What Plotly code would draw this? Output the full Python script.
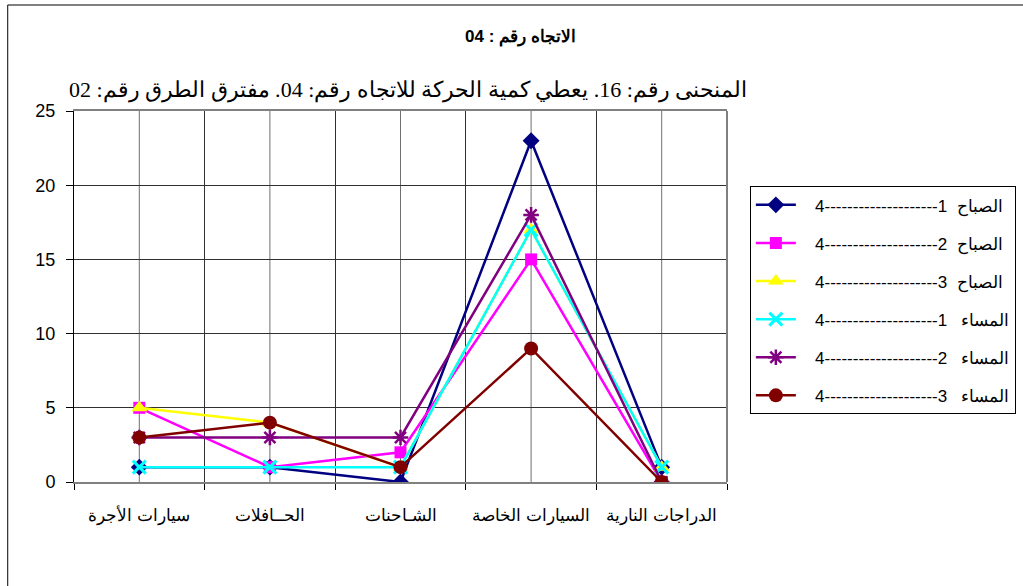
import plotly.graph_objects as go

categories = ["سيارات الأجرة", "الحــافلات", "الشـاحنات", "السيارات الخاصة", "الدراجات النارية"]

NB = "\u00a0"
series_names = [
    NB * 3 + "4" + "-" * 20 + "1" + NB * 2 + "الصباح",
    NB * 3 + "4" + "-" * 20 + "2" + NB * 2 + "الصباح",
    NB * 3 + "4" + "-" * 20 + "3" + NB * 2 + "الصباح",
    NB * 3 + "4" + "-" * 20 + "1" + NB * 3 + "المساء",
    NB * 3 + "4" + "-" * 20 + "2" + NB * 3 + "المساء",
    NB * 3 + "4" + "-" * 20 + "3" + NB * 3 + "المساء",
]

morning_1 = [1, 1, 0, 23, 1]
morning_2 = [5, 1, 2, 15, 0]
morning_3 = [5, 4, 1, 17, 1]
evening_1 = [1, 1, 1, 17, 1]
evening_2 = [3, 3, 3, 18, 0]
evening_3 = [3, 4, 1, 9, 0]

y_ticks = [0, 5, 10, 15, 20, 25]

title_text = "<b>الاتجاه رقم : 04</b>"
subtitle_text = "\u202bالمنحنى رقم: 16. يعطي كمية الحركة للاتجاه رقم: 04. مفترق الطرق رقم: 02\u202c"

series_values = [morning_1, morning_2, morning_3, evening_1, evening_2, evening_3]
styles = [
    dict(color="#000080", symbol="diamond", size=13, lw=0, lc="#000080"),
    dict(color="#FF00FF", symbol="square", size=12, lw=0, lc="#FF00FF"),
    dict(color="#FFFF00", symbol="triangle-up", size=14, lw=0, lc="#FFFF00"),
    dict(color="#00FFFF", symbol="x-thin-open", size=13, lw=3, lc="#00FFFF"),
    dict(color="#800080", symbol="asterisk-open", size=13, lw=2.5, lc="#800080"),
    dict(color="#800000", symbol="circle", size=14, lw=0, lc="#800000"),
]

fig = go.Figure()
for i, (name, vals, st) in enumerate(zip(series_names, series_values, styles)):
    fig.add_trace(go.Scatter(
        x=categories, y=vals, name=name, mode="lines+markers",
        legendgroup=f"g{i}",
        line=dict(color=st["color"], width=2.5),
        marker=dict(symbol=st["symbol"], size=st["size"], color=st["color"],
                    line=dict(width=st["lw"], color=st["lc"])),
    ))

shapes = []
# center gridlines at each category
for c in categories:
    shapes.append(dict(type="line", xref="x", yref="paper", x0=c, x1=c, y0=0, y1=1,
                       line=dict(color="#707070", width=1), layer="below"))
# right border of the plot area
shapes.append(dict(type="line", xref="paper", yref="paper", x0=1, x1=1, y0=0, y1=1,
                   line=dict(color="#808080", width=2), layer="above"))
# outer chart border
shapes.append(dict(type="rect", xref="paper", yref="paper", x0=-0.1015, x1=2, y0=-1, y1=1.2857,
                   line=dict(color="black", width=1), layer="below"))

fig.update_layout(
    width=1023, height=586,
    margin=dict(l=74, r=296, t=111, b=104, autoexpand=False),
    paper_bgcolor="white", plot_bgcolor="white",
    font=dict(family="Arial, Liberation Sans, sans-serif", color="black", size=15),
    showlegend=True,
    legend=dict(
        x=1.035, xanchor="left", y=0.797, yanchor="top",
        bordercolor="black", borderwidth=1, bgcolor="white",
        font=dict(size=17, family="Arial, Liberation Sans, sans-serif", color="black"),
        tracegroupgap=13, itemwidth=40,
    ),
    shapes=shapes,
    annotations=[
        dict(text=title_text, xref="paper", yref="paper", x=0.6845, y=1.2, xanchor="center",
             yanchor="middle", showarrow=False,
             font=dict(size=17, family="Arial, Liberation Sans, sans-serif", color="black")),
        dict(text=subtitle_text, xref="paper", yref="paper", x=0.5115, y=1.056, xanchor="center",
             yanchor="middle", showarrow=False,
             font=dict(size=22, family="Times New Roman, Liberation Serif, serif", color="black")),
    ],
)

fig.update_xaxes(
    type="category", categoryorder="array", categoryarray=categories,
    range=[-0.5, 4.5], tickson="boundaries", ticks="outside", ticklen=6,
    tickcolor="black", showgrid=True, gridcolor="#303030", gridwidth=1,
    showline=True, linecolor="#808080", linewidth=2, mirror=True,
    tickfont=dict(size=17), ticklabelstandoff=17, tickangle=0, automargin=False,
)
fig.update_yaxes(
    range=[0, 25], tickvals=y_ticks, ticks="outside", ticklen=7, tickcolor="black",
    showgrid=True, gridcolor="#303030", gridwidth=1, zeroline=False,
    showline=True, linecolor="black", linewidth=1,
    tickfont=dict(size=18), ticklabelstandoff=7, automargin=False,
)

fig.write_html(
    "out.html",
    config={"displayModeBar": False},
    post_script="document.body.style.margin='0';document.body.style.overflow='hidden';",
)
